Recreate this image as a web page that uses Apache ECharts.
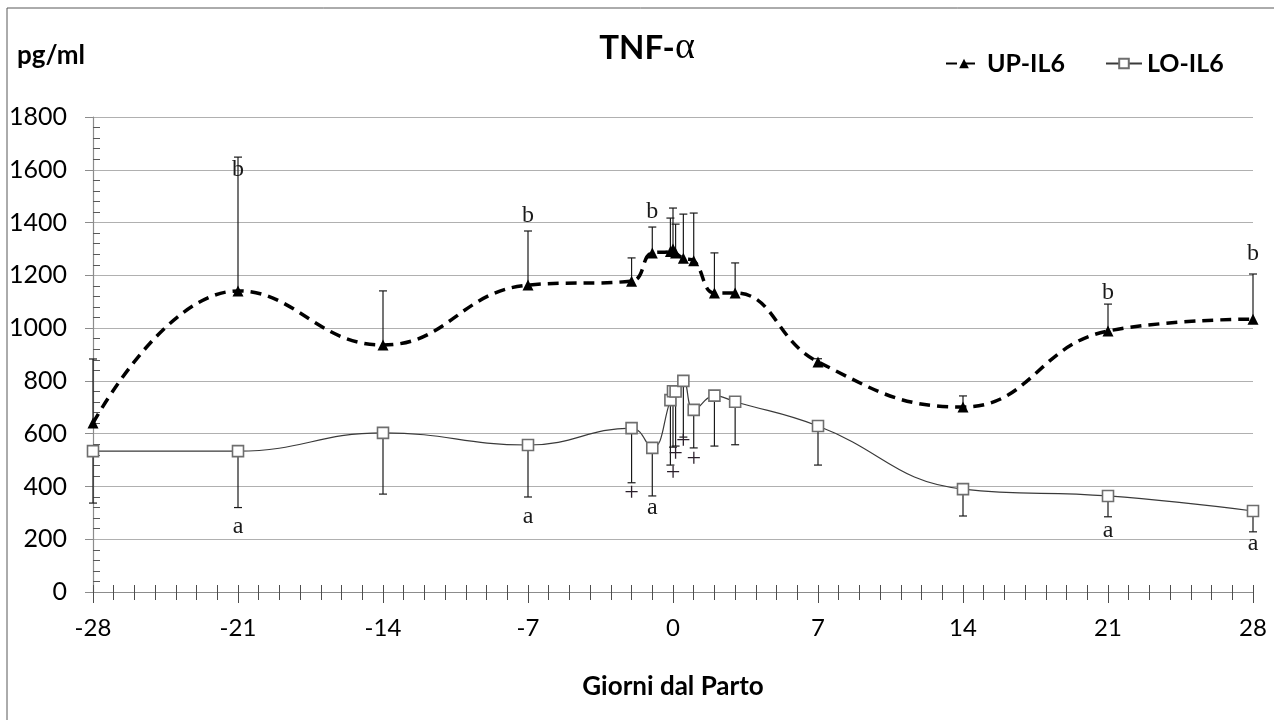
<!DOCTYPE html>
<html>
<head>
<meta charset="utf-8">
<script src="https://cdn.jsdelivr.net/npm/echarts@6/dist/echarts.min.js"></script>
<style>
  html, body { margin: 0; padding: 0; background: #ffffff; }
  #chart { width: 1274px; height: 720px; }
</style>
</head>
<body>
<div id="chart"></div>
<script>
// Sampling days relative to calving
const days = [-28, -21, -14, -7, -2, -1, -0.125, 0, 0.125, 0.5, 1, 2, 3, 7, 14, 21, 28];

// TNF-alpha (pg/ml), UP-IL6 group: means and SD (bars drawn upwards)
const upMean = [640, 1141, 936, 1163, 1178, 1285, 1290, 1300, 1285, 1265, 1255, 1133, 1133, 872, 701, 989, 1034];
const upSd   = [243, 507, 205, 205, 88, 98, 127, 155, 109, 167, 181, 152, 114, 12, 42, 102, 171];

// LO-IL6 group: means and SD (bars drawn downwards)
const loMean = [534, 534, 603, 557, 621, 546, 727, 761, 760, 800, 690, 744, 721, 629, 390, 364, 307];
const loSd   = [197, 214, 232, 197, 207, 182, 246, 212, 207, 213, 144, 191, 163, 148, 102, 79, 79];

// Significance letters: [day, pg/ml, letter]
const upLetters = [[-21, 1599, 'b'], [-7, 1425, 'b'], [-1, 1440, 'b'], [21, 1133, 'b'], [28, 1281, 'b']];
const loLetters = [[-21, 246, 'a'], [-7, 284, 'a'], [-1, 318, 'a'], [21, 231, 'a'], [28, 182, 'a']];
// Within-group differences marked with "+"
const plusMarks = [[-2, 375], [0, 451], [0.125, 523], [0.5, 572], [1, 504]];

// Axis ticks
const xTicks = { min: -28, max: 28, step: 7 };
const yTicks = { min: 0, max: 1800, step: 200 };

const sansFont = 'Lato, "Open Sans", sans-serif';
const serifFont = '"Liberation Serif", "DejaVu Serif", serif';

const chart = echarts.init(document.getElementById('chart'), null, { renderer: 'canvas' });

function errorBars(dir) {
  return function (params, api) {
    const x = api.value(0), y = api.value(1), e = api.value(2);
    const p0 = api.coord([x, y]);
    const p1 = api.coord([x, y + dir * e]);
    const st = { stroke: '#1a1a1a', lineWidth: 1.2 };
    return {
      type: 'group',
      children: [
        { type: 'line', shape: { x1: p0[0], y1: p0[1], x2: p1[0], y2: p1[1] }, style: st },
        { type: 'line', shape: { x1: p1[0] - 4, y1: p1[1], x2: p1[0] + 4, y2: p1[1] }, style: st }
      ]
    };
  };
}

function textMarks(list, font, color) {
  return function (params, api) {
    const p = api.coord([api.value(0), api.value(1)]);
    return {
      type: 'text',
      x: p[0], y: p[1],
      style: { text: list[params.dataIndex][2] || '+', font: font, fill: color, align: 'center', verticalAlign: 'middle' }
    };
  };
}

const option = {
  animation: false,
  backgroundColor: '#ffffff',
  title: [
    {
      text: 'TNF-{g|α}',
      left: 642, top: 24, textAlign: 'center',
      textStyle: {
        fontFamily: sansFont, fontWeight: 'bold', fontSize: 33, color: '#000',
        rich: { g: { fontFamily: serifFont, fontSize: 38, fontWeight: 'normal', color: '#000' } }
      }
    },
    {
      text: 'pg/ml', left: 12, top: 38,
      textStyle: { fontFamily: sansFont, fontWeight: 'bold', fontSize: 26, color: '#000' }
    }
  ],
  legend: {
    left: 940, top: 46,
    itemWidth: 36, itemHeight: 12, itemGap: 40,
    textStyle: { fontFamily: sansFont, fontWeight: 'bold', fontSize: 25, color: '#000' },
    data: ['UP-IL6', 'LO-IL6']
  },
  grid: { left: 93, right: 21, top: 117, bottom: 128, containLabel: false },
  xAxis: [
    {
      type: 'value', min: xTicks.min, max: xTicks.max, interval: xTicks.step, position: 'bottom',
      axisLine: { show: true, onZero: false, lineStyle: { color: '#8c8c8c', width: 1.2 } },
      axisTick: { show: true, length: 11, lineStyle: { color: '#4d4d4d' } },
      minorTick: { show: true, splitNumber: 7, length: 8, lineStyle: { color: '#4d4d4d' } },
      axisLabel: { margin: 24, fontFamily: sansFont, fontSize: 24, color: '#000' },
      splitLine: { show: false },
      name: 'Giorni dal Parto', nameLocation: 'middle', nameGap: 82,
      nameTextStyle: { fontFamily: sansFont, fontWeight: 'bold', fontSize: 26, color: '#000' }
    },
    {
      type: 'value', min: xTicks.min, max: xTicks.max, interval: xTicks.step, position: 'bottom',
      axisLine: { show: false, onZero: false },
      axisTick: { show: true, inside: true, length: 7, lineStyle: { color: '#4d4d4d' } },
      minorTick: { show: true, splitNumber: 7, length: 7, lineStyle: { color: '#4d4d4d' } },
      axisLabel: { show: false },
      splitLine: { show: false }
    }
  ],
  yAxis: [
    {
      type: 'value', min: yTicks.min, max: yTicks.max, interval: yTicks.step, position: 'left',
      axisLine: { show: true, onZero: false, lineStyle: { color: '#8c8c8c', width: 1.2 } },
      axisTick: { show: true, length: 8, lineStyle: { color: '#8c8c8c' } },
      axisLabel: { margin: 26, fontFamily: sansFont, fontSize: 25, color: '#000', formatter: v => String(v) },
      splitLine: { show: true, lineStyle: { color: '#b0b0b0', width: 1 } }
    },
    {
      type: 'value', min: yTicks.min, max: yTicks.max, interval: yTicks.step, position: 'left',
      axisLine: { show: false, onZero: false },
      axisTick: { show: false, inside: true },
      minorTick: { show: true, splitNumber: 5, length: 7, lineStyle: { color: '#595959' } },
      axisLabel: { show: false },
      splitLine: { show: false }
    }
  ],
  graphic: [
    { type: 'line', shape: { x1: 7, y1: 8, x2: 1274, y2: 8 }, style: { stroke: '#595959', lineWidth: 1 }, silent: true },
    { type: 'line', shape: { x1: 7, y1: 8, x2: 7, y2: 720 }, style: { stroke: '#595959', lineWidth: 1 }, silent: true }
  ],
  series: [
    {
      type: 'custom', name: 'upErr', z: 1,
      renderItem: errorBars(1),
      encode: { x: 0, y: 1 },
      data: days.map((d, i) => [d, upMean[i], upSd[i]])
    },
    {
      type: 'custom', name: 'loErr', z: 1,
      renderItem: errorBars(-1),
      encode: { x: 0, y: 1 },
      data: days.map((d, i) => [d, loMean[i], loSd[i]])
    },
    {
      name: 'UP-IL6', type: 'line', z: 3,
      smooth: 0.45,
      symbol: 'triangle', symbolSize: 11,
      itemStyle: { color: '#000' },
      lineStyle: { color: '#000', width: 3.5, type: [11, 7] },
      data: days.map((d, i) => [d, upMean[i]])
    },
    {
      name: 'LO-IL6', type: 'line', z: 3,
      smooth: 0.45,
      symbol: 'rect', symbolSize: 11,
      itemStyle: { color: '#ffffff', borderColor: '#6e6e6e', borderWidth: 1.6 },
      lineStyle: { color: '#3a3a3a', width: 1.2 },
      data: days.map((d, i) => [d, loMean[i]])
    },
    {
      type: 'custom', name: 'upLetters', z: 5,
      renderItem: textMarks(upLetters, '24px ' + serifFont, '#1a1a1a'),
      encode: { x: 0, y: 1 },
      data: upLetters.map(r => [r[0], r[1]])
    },
    {
      type: 'custom', name: 'loLetters', z: 5,
      renderItem: textMarks(loLetters, '24px ' + serifFont, '#1a1a1a'),
      encode: { x: 0, y: 1 },
      data: loLetters.map(r => [r[0], r[1]])
    },
    {
      type: 'custom', name: 'plus', z: 5,
      renderItem: textMarks(plusMarks, '26px ' + serifFont, '#2b1f2b'),
      encode: { x: 0, y: 1 },
      data: plusMarks.map(r => [r[0], r[1]])
    }
  ]
};

chart.setOption(option);
</script>
</body>
</html>
